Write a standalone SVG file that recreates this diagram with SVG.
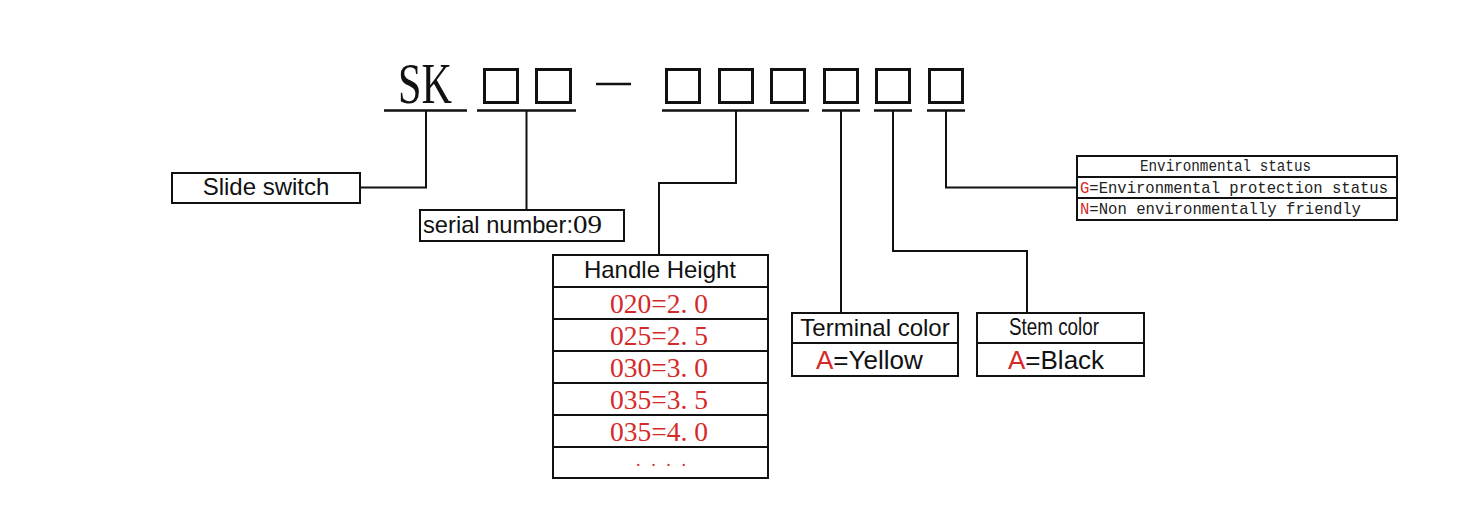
<svg xmlns="http://www.w3.org/2000/svg" width="1467" height="518" viewBox="0 0 1467 518">
<style>
.bx{fill:#fff;stroke:#111;stroke-width:2}
.ln{fill:none;stroke:#111;stroke-width:2}
.ul{fill:none;stroke:#111;stroke-width:2.6}
.sq{fill:none;stroke:#111;stroke-width:3}
.ar{font-family:"Liberation Sans",Arial,sans-serif;fill:#111}
.sf{font-family:"Liberation Serif","Times New Roman",serif}
.mo{font-family:"Liberation Mono","Courier New",monospace;fill:#222}
.red{fill:#d42a2a}
</style>
<rect width="1467" height="518" fill="#fff"/>
<g id="code">
<text x="398" y="103" class="sf" font-size="56" fill="#111" textLength="54" lengthAdjust="spacingAndGlyphs">SK</text>
<rect class="sq" x="484.5" y="69.5" width="33" height="33"/>
<rect class="sq" x="536.5" y="69.5" width="34" height="33"/>
<line class="ul" x1="596" y1="84" x2="631" y2="84"/>
<rect class="sq" x="666.5" y="69.5" width="33" height="33"/>
<rect class="sq" x="719.5" y="69.5" width="33" height="33"/>
<rect class="sq" x="771.5" y="69.5" width="33" height="33"/>
<rect class="sq" x="824.5" y="69.5" width="33" height="33"/>
<rect class="sq" x="876.5" y="69.5" width="33" height="33"/>
<rect class="sq" x="929.5" y="69.5" width="33" height="33"/>
</g>
<g id="connectors">
<line class="ul" x1="384" y1="110.5" x2="467" y2="110.5"/>
<line class="ul" x1="477" y1="110.5" x2="576" y2="110.5"/>
<line class="ul" x1="662" y1="110.5" x2="809" y2="110.5"/>
<line class="ul" x1="822" y1="110.5" x2="860" y2="110.5"/>
<line class="ul" x1="874" y1="110.5" x2="912" y2="110.5"/>
<line class="ul" x1="927" y1="110.5" x2="965" y2="110.5"/>
<polyline class="ln" points="426,111 426,187.5 360,187.5"/>
<polyline class="ln" points="526.5,111 526.5,210"/>
<polyline class="ln" points="736,111 736,183 659,183 659,255"/>
<polyline class="ln" points="841,111 841,313"/>
<polyline class="ln" points="893,111 893,251 1027,251 1027,313"/>
<polyline class="ln" points="946,111 946,187.5 1077,187.5"/>
</g>
<g id="slide-switch">
<rect class="bx" x="172" y="173" width="188" height="30"/>
<text x="266" y="195" class="ar" font-size="24" text-anchor="middle">Slide switch</text>
</g>
<g id="serial-number">
<rect class="bx" x="420" y="210" width="204" height="31"/>
<text x="423" y="233" class="ar" font-size="24" textLength="150" lengthAdjust="spacingAndGlyphs">serial number:</text>
<text x="573" y="233" class="sf" font-size="26" fill="#111" textLength="29" lengthAdjust="spacingAndGlyphs">09</text>
</g>
<g id="handle-height">
<rect class="bx" x="553" y="255" width="215" height="223"/>
<line class="ln" x1="553" y1="287" x2="768" y2="287"/>
<line class="ln" x1="553" y1="319" x2="768" y2="319"/>
<line class="ln" x1="553" y1="351" x2="768" y2="351"/>
<line class="ln" x1="553" y1="383" x2="768" y2="383"/>
<line class="ln" x1="553" y1="415" x2="768" y2="415"/>
<line class="ln" x1="553" y1="447" x2="768" y2="447"/>
<text x="660" y="278" class="ar" font-size="24" text-anchor="middle">Handle Height</text>
<text x="610" y="313" class="sf red" font-size="28" textLength="98" lengthAdjust="spacingAndGlyphs">020=2. 0</text>
<text x="610" y="345" class="sf red" font-size="28" textLength="98" lengthAdjust="spacingAndGlyphs">025=2. 5</text>
<text x="610" y="377" class="sf red" font-size="28" textLength="98" lengthAdjust="spacingAndGlyphs">030=3. 0</text>
<text x="610" y="409" class="sf red" font-size="28" textLength="98" lengthAdjust="spacingAndGlyphs">035=3. 5</text>
<text x="610" y="441" class="sf red" font-size="28" textLength="98" lengthAdjust="spacingAndGlyphs">035=4. 0</text>
<text x="636" y="466" class="sf red" font-size="18" textLength="50" lengthAdjust="spacing">....</text>
</g>
<g id="terminal-color">
<rect class="bx" x="792" y="313" width="166" height="63"/>
<line class="ln" x1="792" y1="343" x2="958" y2="343"/>
<text x="875" y="336" class="ar" font-size="24" text-anchor="middle">Terminal color</text>
<text x="816" y="369" class="ar" font-size="26"><tspan class="red">A</tspan>=Yellow</text>
</g>
<g id="stem-color">
<rect class="bx" x="977" y="313" width="167" height="63"/>
<line class="ln" x1="977" y1="343" x2="1144" y2="343"/>
<text x="1009" y="335" class="ar" font-size="23" textLength="90" lengthAdjust="spacingAndGlyphs">Stem color</text>
<text x="1008" y="369" class="ar" font-size="26"><tspan class="red">A</tspan>=Black</text>
</g>
<g id="environmental-status">
<rect class="bx" x="1077" y="156" width="320" height="64"/>
<line class="ln" x1="1077" y1="177" x2="1397" y2="177"/>
<line class="ln" x1="1077" y1="198" x2="1397" y2="198"/>
<text x="1140" y="171" class="mo" font-size="16" textLength="171" lengthAdjust="spacingAndGlyphs">Environmental status</text>
<text x="1080" y="193" class="mo" font-size="17" textLength="308" lengthAdjust="spacingAndGlyphs"><tspan class="red">G</tspan>=Environmental protection status</text>
<text x="1080" y="214" class="mo" font-size="17" textLength="281" lengthAdjust="spacingAndGlyphs"><tspan class="red">N</tspan>=Non environmentally friendly</text>
</g>
</svg>
